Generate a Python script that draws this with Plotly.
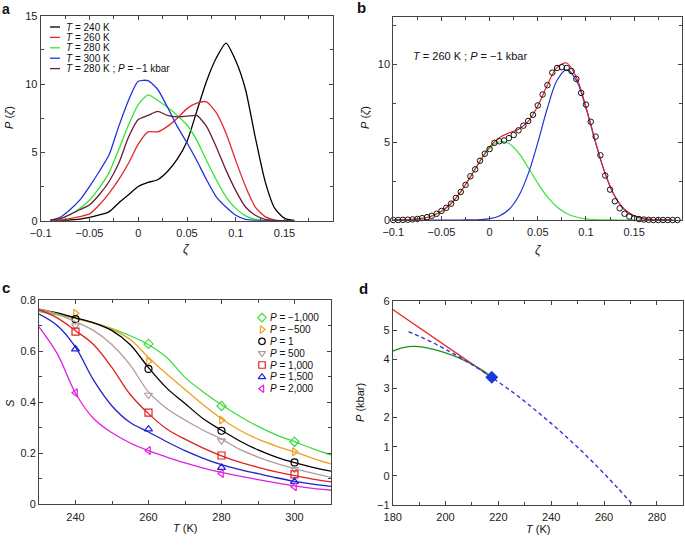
import plotly.graph_objects as go

W, H = 685, 546
FONT = "Liberation Sans, Arial, Helvetica, sans-serif"

# ---------------- Panel a data ----------------
zeta_a = [-0.09, -0.08, -0.07, -0.06, -0.05, -0.04, -0.03, -0.02, -0.01, 0.0,
          0.01, 0.02, 0.03, 0.04, 0.05, 0.06, 0.07, 0.08, 0.09, 0.10,
          0.11, 0.12, 0.13, 0.14, 0.15, 0.16]
p_240 = [0.0, 0.02, 0.05, 0.12, 0.25, 0.42, 0.65, 1.3, 1.9, 2.5,
         2.8, 3.0, 3.6, 4.5, 5.8, 8.0, 10.2, 11.9, 13.0, 11.7,
         9.6, 6.1, 2.9, 0.9, 0.17, 0.02]
p_260 = [0.0, 0.05, 0.15, 0.3, 0.5, 1.15, 2.0, 3.0, 4.2, 5.6,
         6.5, 6.5, 6.9, 7.5, 8.2, 8.6, 8.7, 7.9, 6.4, 4.4,
         2.5, 1.0, 0.3, 0.05, 0.0, 0.0]
p_280 = [0.05, 0.15, 0.45, 0.9, 1.5, 2.4, 3.5, 5.2, 7.0, 8.5,
         9.2, 8.8, 8.3, 7.7, 7.0, 5.9, 4.4, 3.0, 1.75, 0.9,
         0.35, 0.1, 0.02, 0.0, 0.0, 0.0]
p_300 = [0.02, 0.25, 0.8, 1.5, 2.5, 3.6, 4.8, 6.9, 8.8, 10.2,
         10.25, 9.6, 8.3, 6.9, 5.7, 4.4, 3.0, 1.75, 1.0, 0.4,
         0.1, 0.02, 0.0, 0.0, 0.0, 0.0]
p_280m1 = [0.05, 0.15, 0.45, 0.8, 1.15, 1.9, 2.85, 4.2, 6.1, 7.4,
           7.7, 8.0, 7.7, 7.6, 7.65, 7.7, 6.9, 5.4, 3.7, 2.2,
           1.0, 0.4, 0.1, 0.02, 0.0, 0.0]
series_a = [
    ("<i>T</i> = 240 K", p_240, "#000000"),
    ("<i>T</i> = 260 K", p_260, "#e8262a"),
    ("<i>T</i> = 280 K", p_280, "#33e533"),
    ("<i>T</i> = 300 K", p_300, "#2233dd"),
    ("<i>T</i> = 280 K ; <i>P</i> = \u22121 kbar", p_280m1, "#6a1b3b"),
]

# ---------------- Panel b data ----------------
zeta_b_pts = [round(-0.1 + 0.005 * i, 3) for i in range(60)]
p_b_pts = [0.0, 0.0, 0.01, 0.02, 0.04, 0.07, 0.12, 0.18, 0.27, 0.40,
           0.58, 0.78, 1.05, 1.42, 1.80, 2.25, 2.80, 3.25, 3.80, 4.25,
           4.55, 4.95, 5.05, 5.10, 5.25, 5.45, 5.75, 6.05, 6.35, 6.75,
           7.35, 8.05, 8.65, 9.45, 9.75, 9.80, 9.75, 9.55, 9.05, 8.15,
           7.40, 6.30, 5.35, 4.15, 2.85, 1.95, 1.20, 0.75, 0.40, 0.22,
           0.12, 0.06, 0.03, 0.01, 0.0, 0.0, 0.0, 0.0, 0.0, 0.0]
zeta_b_fit = [round(-0.1 + 0.01 * i, 2) for i in range(30)]
p_b_green = [0.004, 0.014, 0.041, 0.11, 0.26, 0.56, 1.06, 1.81, 2.76, 3.76,
             4.60, 5.02, 4.91, 4.30, 3.37, 2.36, 1.48, 0.83, 0.42, 0.19,
             0.075, 0.027, 0.009, 0.003, 0.001, 0.0, 0.0, 0.0, 0.0, 0.0]
p_b_blue = [0.0, 0.0, 0.0, 0.0, 0.0, 0.0, 0.0, 0.0, 0.006, 0.024,
            0.085, 0.26, 0.67, 1.52, 2.96, 4.96, 7.18, 8.96, 9.65, 8.96,
            7.18, 4.96, 2.96, 1.52, 0.67, 0.26, 0.085, 0.024, 0.006, 0.001]
p_b_red = [0.004, 0.014, 0.041, 0.11, 0.26, 0.56, 1.06, 1.81, 2.77, 3.78,
           4.69, 5.28, 5.58, 5.82, 6.33, 7.32, 8.66, 9.79, 10.07, 9.15,
           7.26, 4.99, 2.97, 1.52, 0.67, 0.26, 0.085, 0.024, 0.006, 0.001]

# ---------------- Panel c data ----------------
T_fit = [230, 235, 240, 245, 250, 255, 260, 265, 270, 275, 280, 285, 290, 295, 300, 305, 310]
T_pts = [240, 260, 280, 300]
series_c = [
    ("<i>P</i> = \u22121,000", "#3ddc3d", "diamond-open",
     [0.755, 0.742, 0.728, 0.71, 0.688, 0.66, 0.625, 0.575, 0.497, 0.44, 0.39, 0.345, 0.305, 0.272, 0.245, 0.218, 0.193],
     [None, 0.628, 0.385, 0.245]),
    ("<i>P</i> = \u2212500", "#f0a020", "triangle-right-open",
     [0.758, 0.745, 0.728, 0.71, 0.685, 0.645, 0.575, 0.51, 0.45, 0.39, 0.335, 0.29, 0.255, 0.228, 0.205, 0.18, 0.158],
     [0.748, 0.559, 0.330, 0.206]),
    ("<i>P</i> = 1", "#000000", "circle-open",
     [0.762, 0.75, 0.73, 0.71, 0.68, 0.625, 0.535, 0.455, 0.395, 0.335, 0.29, 0.248, 0.213, 0.185, 0.163, 0.145, 0.13],
     [0.725, 0.530, 0.288, 0.164]),
    ("<i>P</i> = 500", "#b59a9a", "triangle-down-open",
     [0.765, 0.745, 0.715, 0.68, 0.625, 0.545, 0.44, 0.375, 0.33, 0.29, 0.255, 0.215, 0.185, 0.16, 0.14, 0.122, 0.105],
     [0.70, 0.428, 0.249, 0.138]),
    ("<i>P</i> = 1,000", "#e02020", "square-open",
     [0.762, 0.73, 0.68, 0.625, 0.535, 0.43, 0.355, 0.295, 0.255, 0.22, 0.19, 0.165, 0.145, 0.127, 0.112, 0.099, 0.088],
     [0.676, 0.359, 0.191, 0.117]),
    ("<i>P</i> = 1,500", "#2020d0", "triangle-up-open",
     [0.745, 0.70, 0.615, 0.485, 0.385, 0.32, 0.283, 0.245, 0.21, 0.18, 0.155, 0.136, 0.12, 0.104, 0.09, 0.079, 0.07],
     [0.608, 0.294, 0.144, 0.089]),
    ("<i>P</i> = 2,000", "#e020e0", "triangle-left-open",
     [0.695, 0.59, 0.435, 0.335, 0.28, 0.24, 0.21, 0.185, 0.162, 0.142, 0.125, 0.11, 0.097, 0.084, 0.072, 0.062, 0.055],
     [0.437, 0.211, 0.121, 0.069]),
]

# ---------------- Panel d data ----------------
T_red = [180, 217.5]
P_red = [5.71, 3.38]
T_green = [180, 184, 188, 192, 196, 200, 205, 210, 214, 217.5]
P_green = [4.28, 4.40, 4.44, 4.41, 4.33, 4.22, 4.05, 3.83, 3.62, 3.38]
T_dash = [186, 190, 195, 200, 205, 210, 217.5, 220, 225, 230, 235, 240, 245, 250, 255, 260, 265, 271]
P_dash = [4.95, 4.79, 4.58, 4.34, 4.09, 3.82, 3.38, 3.22, 2.90, 2.55, 2.18, 1.80, 1.40, 0.98, 0.54, 0.08, -0.40, -1.0]
T_crit = [217.5]
P_crit = [3.38]

fig = go.Figure()

# panel a
for name, vals, col in series_a:
    fig.add_trace(go.Scatter(x=zeta_a, y=vals, mode="lines", line=dict(color=col, width=1.3, shape="spline", smoothing=0.6),
                             xaxis="x", yaxis="y", showlegend=False))
# panel b
fig.add_trace(go.Scatter(x=zeta_b_fit, y=p_b_green, mode="lines", line=dict(color="#33e533", width=1.2, shape="spline"),
                         xaxis="x2", yaxis="y2", showlegend=False))
fig.add_trace(go.Scatter(x=zeta_b_fit, y=p_b_blue, mode="lines", line=dict(color="#2233cc", width=1.2, shape="spline"),
                         xaxis="x2", yaxis="y2", showlegend=False))
fig.add_trace(go.Scatter(x=zeta_b_fit, y=p_b_red, mode="lines", line=dict(color="#e8262a", width=1.2, shape="spline"),
                         xaxis="x2", yaxis="y2", showlegend=False))
fig.add_trace(go.Scatter(x=zeta_b_pts, y=p_b_pts, mode="markers",
                         marker=dict(symbol="circle-open", size=5.5, color="#111111", line=dict(width=1)),
                         xaxis="x2", yaxis="y2", showlegend=False, cliponaxis=False))
# panel c
for name, col, sym, fit, pts in series_c:
    fig.add_trace(go.Scatter(x=T_fit, y=fit, mode="lines", line=dict(color=col, width=1.3, shape="spline"),
                             xaxis="x3", yaxis="y3", showlegend=False))
    fig.add_trace(go.Scatter(x=T_pts, y=pts, mode="markers",
                             marker=dict(symbol=sym, size=7, color=col, line=dict(width=1.2, color=col)),
                             xaxis="x3", yaxis="y3", showlegend=False))
# panel d
fig.add_trace(go.Scatter(x=T_red, y=P_red, mode="lines", line=dict(color="#e8262a", width=1.3),
                         xaxis="x4", yaxis="y4", showlegend=False))
fig.add_trace(go.Scatter(x=T_green, y=P_green, mode="lines", line=dict(color="#1f8f1f", width=1.3, shape="spline"),
                         xaxis="x4", yaxis="y4", showlegend=False))
fig.add_trace(go.Scatter(x=T_dash, y=P_dash, mode="lines", line=dict(color="#3333dd", width=1.4, dash="4px,3px", shape="spline"),
                         xaxis="x4", yaxis="y4", showlegend=False))
fig.add_trace(go.Scatter(x=T_crit, y=P_crit, mode="markers", marker=dict(symbol="diamond", size=10, color="#1a3ae0"),
                         xaxis="x4", yaxis="y4", showlegend=False))

# ---------------- custom legends (pixel overlay axis) ----------------
leg_a_y = [27, 37.4, 47.8, 58.2, 68.6]
for (name, vals, col), yy in zip(series_a, leg_a_y):
    fig.add_trace(go.Scatter(x=[50, 60], y=[yy, yy], mode="lines", line=dict(color=col, width=1.3),
                             xaxis="x5", yaxis="y5", showlegend=False, hoverinfo="skip"))
leg_c_y = [317.7, 329.5, 341.3, 353.2, 365.0, 376.9, 388.7]
for (name, col, sym, fit, pts), yy in zip(series_c, leg_c_y):
    fig.add_trace(go.Scatter(x=[262], y=[yy], mode="markers",
                             marker=dict(symbol=sym, size=6.5, color=col, line=dict(width=1.2, color=col)),
                             xaxis="x5", yaxis="y5", showlegend=False, hoverinfo="skip"))

def px(x):
    return x / W

def py(y):
    return 1 - y / H

def dom(x0, x1, y0, y1):
    return [px(x0), px(x1)], [py(y1), py(y0)]

axcommon = dict(showline=True, linecolor="#444444", linewidth=1, mirror="allticks", ticks="inside", ticklen=4,
                tickcolor="#444444", showgrid=False, zeroline=False, automargin=False,
                tickfont=dict(family=FONT, size=11, color="#222222"))
xcommon = dict(axcommon, ticklabelstandoff=2)

xa, ya = dom(40.7, 333.3, 15.7, 220.7)
xb, yb = dom(393.3, 682.3, 17.3, 220.0)
xc, yc = dom(39.0, 331.0, 300.0, 504.3)
xd, yd = dom(392.7, 683.3, 301.0, 505.0)

fig.update_layout(
    width=W, height=H, margin=dict(l=0, r=0, t=0, b=0, pad=0, autoexpand=False),
    paper_bgcolor="white", plot_bgcolor="rgba(0,0,0,0)",
    font=dict(family=FONT, size=11, color="#222222"),
    xaxis=dict(domain=xa, anchor="y", range=[-0.1, 0.2], tickvals=[-0.1, -0.05, 0, 0.05, 0.1, 0.15],
               ticktext=["\u22120.1", "\u22120.05", "0", "0.05", "0.1", "0.15"],
               minor=dict(dtick=0.025, tick0=0, ticks="inside", ticklen=3, tickcolor="#444444"), **xcommon),
    yaxis=dict(domain=ya, anchor="x", range=[0, 15], dtick=5,
               minor=dict(dtick=2.5, ticks="inside", ticklen=3, tickcolor="#444444"), **axcommon),
    xaxis2=dict(domain=xb, anchor="y2", range=[-0.1, 0.2], tickvals=[-0.1, -0.05, 0, 0.05, 0.1, 0.15],
                ticktext=["\u22120.1", "\u22120.05", "0", "0.05", "0.1", "0.15"],
                minor=dict(dtick=0.025, tick0=0, ticks="inside", ticklen=3, tickcolor="#444444"), **xcommon),
    yaxis2=dict(domain=yb, anchor="x2", range=[0, 13], tickvals=[0, 5, 10],
                minor=dict(dtick=2.5, ticks="inside", ticklen=3, tickcolor="#444444"), **axcommon),
    xaxis3=dict(domain=xc, anchor="y3", range=[230, 310], tickvals=[240, 260, 280, 300],
                minor=dict(dtick=10, tick0=230, ticks="inside", ticklen=3, tickcolor="#444444"), **xcommon),
    yaxis3=dict(domain=yc, anchor="x3", range=[0, 0.8], tickvals=[0, 0.2, 0.4, 0.6, 0.8],
                ticktext=["0", "0.2", "0.4", "0.6", "0.8"],
                minor=dict(dtick=0.1, ticks="inside", ticklen=3, tickcolor="#444444"), **axcommon),
    xaxis4=dict(domain=xd, anchor="y4", range=[180, 290], tickvals=[180, 200, 220, 240, 260, 280],
                minor=dict(dtick=10, tick0=180, ticks="inside", ticklen=3, tickcolor="#444444"), **xcommon),
    yaxis4=dict(domain=yd, anchor="x4", range=[-1, 6], tickvals=[-1, 0, 1, 2, 3, 4, 5, 6],
                ticktext=["\u22121", "0", "1", "2", "3", "4", "5", "6"], **axcommon),
    xaxis5=dict(domain=[0, 1], anchor="y5", range=[0, W], visible=False, fixedrange=True),
    yaxis5=dict(domain=[0, 1], anchor="x5", range=[H, 0], visible=False, fixedrange=True),
)

ann = []

def text(x, y, s, size=11, xanchor="center", yanchor="middle", angle=0, bold=False):
    if bold:
        s = "<b>" + s + "</b>"
    ann.append(dict(x=px(x), y=py(y), xref="paper", yref="paper", text=s, showarrow=False,
                    xanchor=xanchor, yanchor=yanchor, textangle=angle, borderpad=0,
                    font=dict(family=FONT, size=size, color="#111111")))

# panel letters
text(1, 0, "a", size=14, xanchor="left", yanchor="top", bold=True)
text(356, 8, "b", size=15, xanchor="left", bold=True)
text(1, 287, "c", size=15, xanchor="left", bold=True)
text(358, 288, "d", size=15, xanchor="left", bold=True)

# axis titles
text(187, 249, "<i>\u03b6</i>", size=12)
text(9, 118, "<i>P</i> (<i>\u03b6</i>)", size=11, angle=-90)
text(538, 250, "<i>\u03b6</i>", size=12)
text(365, 118, "<i>P</i> (<i>\u03b6</i>)", size=11, angle=-90)
text(10, 403, "<i>S</i>", size=11, angle=-90)
text(185, 528, "<i>T</i> (K)", size=11)
text(360, 403, "<i>P</i> (kbar)", size=11, angle=-90)
text(538, 529, "<i>T</i> (K)", size=11)

# panel b label
text(412, 56, "<i>T</i> = 260 K ; <i>P</i> = \u22121 kbar", size=11, xanchor="left")

# legends text
for (name, vals, col), yy in zip(series_a, leg_a_y):
    text(65, yy, name, size=10, xanchor="left")
for (name, col, sym, fit, pts), yy in zip(series_c, leg_c_y):
    text(269, yy, name, size=10, xanchor="left")

fig.update_layout(annotations=ann)

fig.write_html("out.html", config={"displayModeBar": False},
               post_script="document.body.style.margin='0';document.body.style.overflow='hidden';")
